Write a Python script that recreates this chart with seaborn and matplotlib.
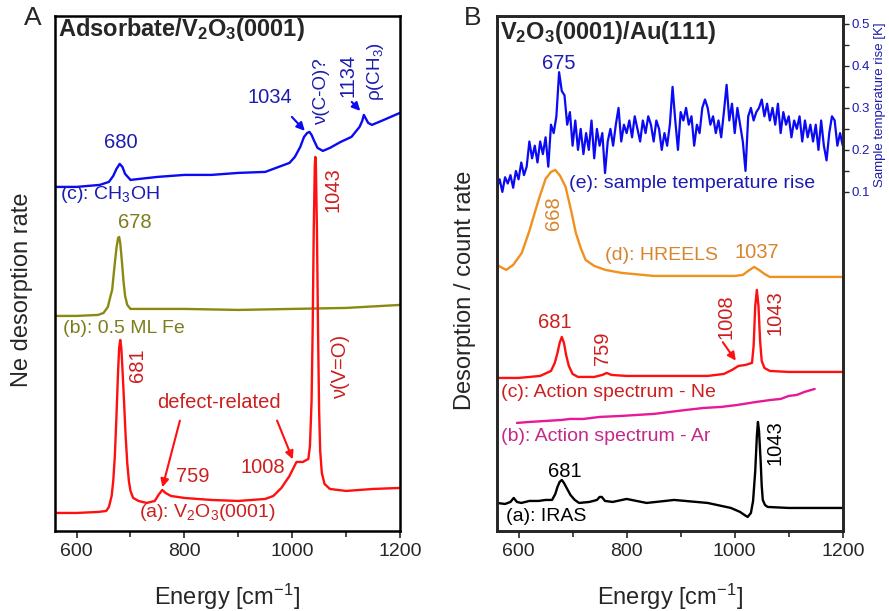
import matplotlib.pyplot as plt
import seaborn as sns
from matplotlib.ticker import MultipleLocator

sns.set_style("ticks")
plt.rcParams['font.family'] = ['Liberation Sans', 'DejaVu Sans']
plt.rcParams['mathtext.fontset'] = 'custom'
plt.rcParams['mathtext.rm'] = 'Liberation Sans'
plt.rcParams['mathtext.it'] = 'Liberation Sans:italic'
plt.rcParams['mathtext.bf'] = 'Liberation Sans:bold'
plt.rcParams['mathtext.default'] = 'regular'

# ---------- panel A: Ne desorption rate (arb. units, offset traces) ----------
a_blue_e = [560, 600, 643, 660, 668, 674, 680, 685, 690, 700, 750, 800, 850, 900, 950,
            970, 985, 995, 1005, 1015, 1022, 1028, 1032, 1036, 1040, 1047, 1057, 1070,
            1090, 1110, 1125, 1130, 1133, 1137, 1141, 1148, 1170, 1200]
a_blue_v = [344, 344, 346, 349, 355, 362, 367, 364, 357, 351, 354, 356, 356, 358, 359,
            363, 366, 368, 374, 384, 394, 398, 399, 396, 391, 383, 380, 383,
            389, 394, 404, 410, 416, 412, 408, 406, 411, 418]

a_olive_e = [560, 600, 640, 650, 658, 663, 666, 668, 671, 674, 677, 679, 681, 684,
             687, 690, 694, 700, 720, 800, 900, 1000, 1100, 1200]
a_olive_v = [215, 215, 216, 218, 224, 235, 241, 252, 268, 283, 293, 294, 288, 270,
             250, 235, 226, 222, 222, 222, 221, 222, 223, 226]

a_red_e = [560, 600, 640, 655, 660, 665, 668, 671, 674, 677, 679, 681, 683, 685, 688,
           691, 694, 697, 700, 705, 715, 730, 745, 752, 759, 765, 775, 800, 850, 900,
           950, 965, 980, 995, 1008, 1020, 1030, 1033, 1036, 1038, 1040, 1042, 1043,
           1044, 1046, 1048, 1050, 1052, 1055, 1060, 1070, 1100, 1150, 1200]
a_red_v = [18, 18, 19, 20, 24, 35, 50, 75, 115, 160, 183, 191, 183, 163, 130,
           95, 68, 50, 40, 33, 30, 28, 30, 36, 41, 38, 35, 33, 31, 30,
           32, 35, 43, 55, 69, 69, 72, 85, 130, 200, 300, 365, 374,
           365, 300, 200, 120, 80, 58, 47, 42, 40, 42, 43]

# ---------- panel B ----------
# (e) sample temperature rise [K], every 5 cm-1 from 560 to 1200
b_temp_v = [0.11, 0.13, 0.10, 0.135, 0.12, 0.14, 0.11, 0.15, 0.13, 0.17,
            0.14, 0.16, 0.22, 0.18, 0.21, 0.17, 0.22, 0.19, 0.23, 0.16,
            0.26, 0.24, 0.28, 0.385, 0.34, 0.33, 0.26, 0.29, 0.21, 0.27,
            0.20, 0.25, 0.19, 0.24, 0.20, 0.27, 0.18, 0.25, 0.21, 0.24,
            0.145, 0.22, 0.25, 0.21, 0.26, 0.30, 0.22, 0.26, 0.24, 0.27,
            0.23, 0.28, 0.25, 0.22, 0.27, 0.24, 0.28, 0.26, 0.22, 0.27,
            0.25, 0.20, 0.24, 0.21, 0.26, 0.35, 0.27, 0.20, 0.29, 0.27,
            0.30, 0.26, 0.28, 0.21, 0.26, 0.24, 0.30, 0.32, 0.30, 0.26,
            0.28, 0.24, 0.27, 0.23, 0.29, 0.355, 0.27, 0.31, 0.24, 0.30,
            0.26, 0.22, 0.15, 0.28, 0.30, 0.27, 0.29, 0.30, 0.32, 0.28,
            0.31, 0.27, 0.30, 0.26, 0.31, 0.24, 0.29, 0.26, 0.28, 0.23,
            0.27, 0.25, 0.28, 0.22, 0.27, 0.23, 0.26, 0.22, 0.26, 0.20,
            0.27, 0.21, 0.175, 0.24, 0.28, 0.27, 0.21, 0.24, 0.21]
b_temp_e = list(range(560, 1201, 5))

b_hreels_e = [560, 577, 590, 606, 620, 637, 650, 660, 668, 677, 687, 697, 706, 715,
              724, 740, 761, 791, 850, 900, 1000, 1015, 1025, 1036, 1045, 1055, 1065,
              1100, 1200]
b_hreels_v = [266, 261, 266, 278, 300, 331, 352, 359, 361, 355, 344, 321, 298, 283,
              271, 265, 261, 258, 255, 255, 255, 256, 260, 264, 261, 257, 254,
              254, 254]

b_ne_e = [560, 600, 640, 660, 667, 672, 676, 680, 684, 688, 693, 700, 710, 740, 755,
          763, 772, 800, 850, 950, 980, 995, 1007, 1020, 1032, 1035, 1038, 1041, 1044,
          1047, 1050, 1055, 1065, 1100, 1200]
b_ne_v = [153, 153, 155, 160, 168, 178, 188, 194, 188, 176, 165, 157, 154, 154, 156,
          158, 156, 155, 155, 155, 157, 161, 165, 166, 168, 185, 225, 241, 225,
          190, 170, 163, 160, 159, 159]

b_ar_e = [597, 620, 650, 680, 695, 720, 750, 790, 819, 850, 880, 910, 943, 975, 1005,
          1040, 1067, 1085, 1100, 1115, 1129, 1148]
b_ar_v = [108, 109, 110, 111, 112, 112, 114, 115, 116, 117, 119, 121, 123, 124, 126,
          129, 131, 132, 135, 136, 139, 142]

b_iras_e = [560, 575, 585, 591, 597, 605, 620, 637, 650, 662, 668, 672, 676, 680, 684,
            688, 696, 704, 712, 731, 745, 750, 754, 760, 774, 800, 837, 888, 950, 993,
            1010, 1018, 1024, 1030, 1034, 1038, 1041, 1043, 1045, 1048, 1050, 1052,
            1056, 1061, 1100, 1200]
b_iras_v = [28, 27, 29, 33, 29, 28, 30, 30, 31, 31, 37, 44, 49, 51, 48,
            44, 36, 31, 28, 29, 31, 34, 34, 30, 29, 32, 28, 31, 28, 23,
            19, 16, 14, 18, 30, 60, 95, 109, 100, 70, 45, 31,
            26, 24, 23, 23]

blue_line, blue_txt = '#0a0af5', '#1c1cb0'
red_line, red_txt = '#ff1010', '#cc1f1f'
olive_line, olive_txt = '#8a8a10', '#7d7d1e'
orange_line, orange_txt = '#f0901e', '#d8842e'
mag_line, mag_txt = '#e8189a', '#c42888'

fig = plt.figure(figsize=(8.89, 6.11), dpi=100)
axA = fig.add_axes([0.0619, 0.131, 0.388, 0.843])
axB = fig.add_axes([0.559, 0.131, 0.389, 0.843])

lw = 1.7
sns.lineplot(x=a_blue_e, y=a_blue_v, ax=axA, color=blue_line, lw=lw, sort=False, estimator=None)
sns.lineplot(x=a_olive_e, y=a_olive_v, ax=axA, color=olive_line, lw=lw, sort=False, estimator=None)
sns.lineplot(x=a_red_e, y=a_red_v, ax=axA, color=red_line, lw=lw, sort=False, estimator=None)

sns.lineplot(x=b_hreels_e, y=b_hreels_v, ax=axB, color=orange_line, lw=lw, sort=False, estimator=None)
sns.lineplot(x=b_ne_e, y=b_ne_v, ax=axB, color=red_line, lw=lw, sort=False, estimator=None)
sns.lineplot(x=b_ar_e, y=b_ar_v, ax=axB, color=mag_line, lw=lw, sort=False, estimator=None)
sns.lineplot(x=b_iras_e, y=b_iras_v, ax=axB, color='black', lw=lw, sort=False, estimator=None)

for ax in (axA, axB):
    ax.set_xlim(560, 1200)
    ax.set_ylim(0, 515)
    ax.set_yticks([])
    ax.set_xticks([600, 800, 1000, 1200])
    ax.xaxis.set_minor_locator(MultipleLocator(100))
    ax.tick_params(axis='x', which='major', direction='out', length=5, width=1.2,
                   labelsize=14, pad=4)
    ax.tick_params(axis='x', which='minor', direction='out', length=4, width=1.2)
    ax.set_xlabel('')
    ax.set_ylabel('')
    for s in ax.spines.values():
        s.set_linewidth(1.8)
        s.set_color('black')

ax2 = axB.twinx()
sns.lineplot(x=b_temp_e, y=b_temp_v, ax=ax2, color=blue_line, lw=1.6, sort=False, estimator=None)
ax2.set_ylim(-0.707, 0.519)
ax2.set_yticks([0.1, 0.2, 0.3, 0.4, 0.5])
ax2.set_yticks([0.15, 0.25, 0.35, 0.45], minor=True)
ax2.set_yticklabels(['0.1', '0.2', '0.3', '0.4', '0.5'])
ax2.tick_params(axis='y', which='both', direction='out', length=4, width=1,
                labelsize=9.5, labelcolor=blue_txt, pad=2)
ax2.set_ylabel('')
for s in ax2.spines.values():
    s.set_linewidth(1.8)

# ---------- text, panel A ----------
fs = 14.5
axA.text(565, 501, r'$\mathbf{Adsorbate/V_2O_3(0001)}$', fontsize=17, ha='left', va='center')
axA.text(682, 388, '680', color=blue_txt, fontsize=fs, ha='center', va='center')
axA.text(959, 433, '1034', color=blue_txt, fontsize=fs, ha='center', va='center')
axA.annotate('', xy=(1027, 398), xytext=(996, 416),
             arrowprops=dict(arrowstyle='-|>', color=blue_line, lw=1.5, mutation_scale=12))
axA.text(1055, 439, 'ν(C-O)?', color=blue_txt, fontsize=13.5, rotation=90, ha='center', va='center')
axA.text(1104, 456, '1134', color=blue_txt, fontsize=fs, rotation=90, ha='center', va='center')
axA.annotate('', xy=(1130, 418), xytext=(1107, 431),
             arrowprops=dict(arrowstyle='-|>', color=blue_line, lw=1.5, mutation_scale=12))
axA.text(1154, 459, 'ρ(CH$_3$)', color=blue_txt, fontsize=13.5, rotation=90, ha='center', va='center')
axA.text(570, 336, '(c): CH$_3$OH', color=blue_txt, fontsize=14, ha='left', va='center')
axA.text(708, 308, '678', color=olive_txt, fontsize=fs, ha='center', va='center')
axA.text(1076, 341, '1043', color=red_txt, fontsize=fs, rotation=90, ha='center', va='center')
axA.text(574, 202, '(b): 0.5 ML Fe', color=olive_txt, fontsize=14, ha='left', va='center')
axA.text(713, 166, '681', color=red_txt, fontsize=fs, rotation=90, ha='center', va='center')
axA.text(1089, 164, 'ν(V=O)', color=red_txt, fontsize=fs, rotation=90, ha='center', va='center')
axA.text(864, 128, 'defect-related', color=red_txt, fontsize=fs, ha='center', va='center')
axA.annotate('', xy=(758, 41), xytext=(793, 113),
             arrowprops=dict(arrowstyle='-|>', color=red_line, lw=1.5, mutation_scale=12))
axA.annotate('', xy=(1003, 69), xytext=(970, 113),
             arrowprops=dict(arrowstyle='-|>', color=red_line, lw=1.5, mutation_scale=12))
axA.text(816, 54, '759', color=red_txt, fontsize=fs, ha='center', va='center')
axA.text(946, 63, '1008', color=red_txt, fontsize=fs, ha='center', va='center')
axA.text(843, 18, '(a): V$_2$O$_3$(0001)', color=red_txt, fontsize=14, ha='center', va='center')

# ---------- text, panel B ----------
axB.text(565, 498, r'$\mathbf{V_2O_3(0001)/Au(111)}$', fontsize=17, ha='left', va='center')
axB.text(674, 467, '675', color=blue_txt, fontsize=fs, ha='center', va='center')
axB.text(693, 347, '(e): sample temperature rise', color=blue_txt, fontsize=14, ha='left', va='center')
axB.text(665, 318, '668', color=orange_txt, fontsize=fs, rotation=90, ha='center', va='center')
axB.text(760, 275, '(d): HREELS', color=orange_txt, fontsize=14, ha='left', va='center')
axB.text(1040, 278, '1037', color=orange_txt, fontsize=fs, ha='center', va='center')
axB.text(667, 208, '681', color=red_txt, fontsize=fs, ha='center', va='center')
axB.text(756, 183, '759', color=red_txt, fontsize=fs, rotation=90, ha='center', va='center')
axB.text(983, 214, '1008', color=red_txt, fontsize=fs, rotation=90, ha='center', va='center')
axB.annotate('', xy=(1005, 168), xytext=(975, 191),
             arrowprops=dict(arrowstyle='-|>', color=red_line, lw=1.5, mutation_scale=12))
axB.text(1074, 218, '1043', color=red_txt, fontsize=fs, rotation=90, ha='center', va='center')
axB.text(568, 138, '(c): Action spectrum - Ne', color=red_txt, fontsize=14, ha='left', va='center')
axB.text(568, 94, '(b): Action spectrum - Ar', color=mag_txt, fontsize=14, ha='left', va='center')
axB.text(685, 59, '681', color='black', fontsize=fs, ha='center', va='center')
axB.text(1074, 88, '1043', color='black', fontsize=fs, rotation=90, ha='center', va='center')
axB.text(576, 14, '(a): IRAS', color='black', fontsize=14, ha='left', va='center')

# ---------- figure-level labels ----------
fig.text(33 / 889, 1 - 18 / 611, 'A', fontsize=19, ha='center', va='center')
fig.text(473 / 889, 1 - 18 / 611, 'B', fontsize=19, ha='center', va='center')
fig.text(22 / 889, 1 - 290 / 611, 'Ne desorption rate', fontsize=17, rotation=90,
         ha='center', va='center')
fig.text(465 / 889, 1 - 290 / 611, 'Desorption / count rate', fontsize=17, rotation=90,
         ha='center', va='center')
fig.text(880 / 889, 1 - 105 / 611, 'Sample temperature rise [K]', fontsize=9.5,
         rotation=90, ha='center', va='center', color=blue_txt)
fig.text(227 / 889, 1 - 605 / 611, 'Energy [cm$^{-1}$]', fontsize=17, ha='center', va='baseline')
fig.text(670 / 889, 1 - 605 / 611, 'Energy [cm$^{-1}$]', fontsize=17, ha='center', va='baseline')

fig.savefig('out.png', dpi=100)
